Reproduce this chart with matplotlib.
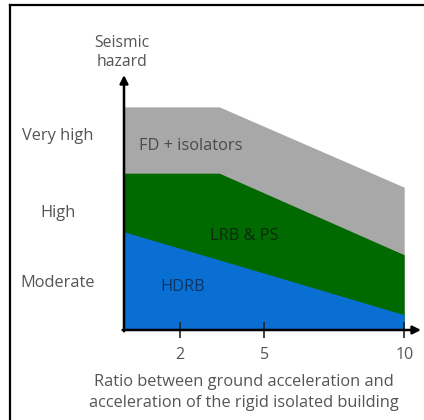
import matplotlib
matplotlib.use('Agg')
import matplotlib.pyplot as plt
from matplotlib.lines import Line2D

plt.rcParams['font.family'] = ['Open Sans', 'DejaVu Sans']

# boundary points (ratio, hazard level) for each zone
x_pts = [0, 3.4, 10]
fd_top = [8.75, 8.75, 5.6]
lrb_top = [6.15, 6.15, 2.95]
hdrb_top = [3.85, 2.75, 0.6]

zone_labels = ['FD + isolators', 'LRB & PS', 'HDRB']
zone_colors = ['#a8a8a8', '#006a00', '#0a6fd2']
zone_text_colors = ['#4a4a4a', '#0d2a0d', '#0c3566']
zone_text_pos = [(0.55, 7.2, 'left'), (4.3, 3.7, 'center'), (2.1, 1.7, 'center')]

hazard_levels = ['Very high', 'High', 'Moderate']
hazard_pos = [7.6, 4.6, 1.85]

xticks = [2, 5, 10]

TXT = '#555555'

def run():
    fig = plt.figure(figsize=(4.24, 4.20), dpi=100)
    ax = fig.add_axes([124 / 424, 90 / 420, 297 / 424, 255 / 420])
    ax.set_xlim(0, 10.6)
    ax.set_ylim(0, 10)

    ax.fill_between(x_pts, 0, fd_top, color=zone_colors[0], lw=0)
    ax.fill_between(x_pts, 0, lrb_top, color=zone_colors[1], lw=0)
    ax.fill_between(x_pts, 0, hdrb_top, color=zone_colors[2], lw=0)

    for lab, c, (tx, ty, ha) in zip(zone_labels, zone_text_colors, zone_text_pos):
        ax.text(tx, ty, lab, color=c, fontsize=11.8, ha=ha, va='center')

    for s in ax.spines.values():
        s.set_visible(False)
    ax.set_yticks([])
    ax.set_xticks(xticks)
    ax.tick_params(axis='x', direction='inout', length=11, width=1.2,
                   colors='#222222', labelcolor=TXT, labelsize=11.5, pad=7)

    # axis arrows
    ax.annotate('', xy=(0, 10), xytext=(0, -0.05), annotation_clip=False,
                arrowprops=dict(arrowstyle='-|>', color='black', lw=1.8,
                                mutation_scale=12, shrinkA=0, shrinkB=0))
    ax.annotate('', xy=(10.6, 0), xytext=(-0.05, 0), annotation_clip=False,
                arrowprops=dict(arrowstyle='-|>', color='black', lw=1.8,
                                mutation_scale=12, shrinkA=0, shrinkB=0))

    ax.text(-0.07, 10.9, 'Seismic\nhazard', ha='center', va='center',
            color=TXT, fontsize=11.3, linespacing=1.25, clip_on=False)
    for lab, y in zip(hazard_levels, hazard_pos):
        ax.text(-2.36, y, lab, ha='center', va='center', color=TXT,
                fontsize=11.8, clip_on=False)

    ax.text(4.29, -2.45, 'Ratio between ground acceleration and\n'
            'acceleration of the rigid isolated building',
            ha='center', va='center', color=TXT, fontsize=11.8,
            linespacing=1.35, clip_on=False)

    # frame (left and top edges)
    fig.add_artist(Line2D([10 / 424, 10 / 424], [0, 415 / 420],
                          color='black', lw=1.6, transform=fig.transFigure))
    fig.add_artist(Line2D([10 / 424, 1], [415 / 420, 415 / 420],
                          color='black', lw=1.6, transform=fig.transFigure))

    fig.savefig('out.png', dpi=100)

if __name__ == '__main__':
    run()
